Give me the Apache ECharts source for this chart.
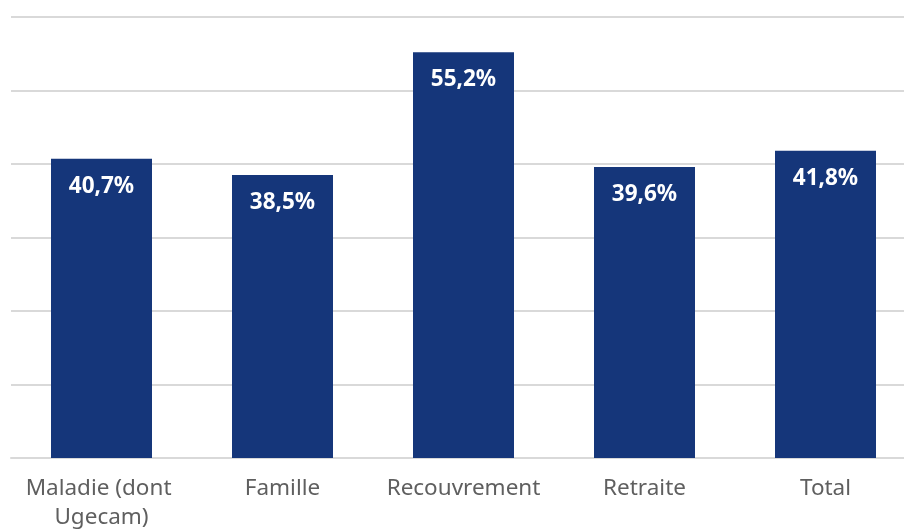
<!DOCTYPE html>
<html>
<head>
<meta charset="utf-8">
<script src="https://cdn.jsdelivr.net/npm/echarts@6/dist/echarts.min.js"></script>
<style>
  html, body { margin: 0; padding: 0; background: #fff; }
  #main { width: 904px; height: 529px; }
</style>
</head>
<body>
<div id="main"></div>
<script>
var categories = ['Maladie (dont Ugecam)', 'Famille', 'Recouvrement', 'Retraite', 'Total'];
var values = [40.7, 38.5, 55.2, 39.6, 41.8];

var myChart = echarts.init(document.getElementById('main'));
var option = {
    animation: false,
    grid: { left: 11, right: -12, top: 17, bottom: 71, outerBoundsMode: 'none', containLabel: false },
    xAxis: {
        type: 'category',
        data: categories,
        axisLine: { lineStyle: { color: '#d9d9d9', width: 2 } },
        axisTick: { show: false },
        axisLabel: {
            color: '#5f5f5f',
            fontFamily: 'Noto Sans',
            fontSize: 22.5,
            lineHeight: 29,
            margin: 16,
            width: 175,
            overflow: 'break',
            interval: 0
        }
    },
    yAxis: {
        type: 'value',
        min: 0,
        max: 60,
        interval: 10,
        axisLabel: { show: false },
        axisLine: { show: false },
        axisTick: { show: false },
        splitLine: { lineStyle: { color: '#d9d9d9', width: 2 } }
    },
    series: [{
        type: 'bar',
        data: values,
        barWidth: 101,
        itemStyle: { color: '#15367a' },
        label: {
            show: true,
            position: 'insideTop',
            distance: 16,
            color: '#fff',
            fontFamily: 'Noto Sans',
            fontWeight: 'bold',
            fontSize: 22.5,
            formatter: function (p) {
                return p.value.toFixed(1).replace('.', ',') + '%';
            }
        }
    }]
};
myChart.setOption(option);
</script>
</body>
</html>
